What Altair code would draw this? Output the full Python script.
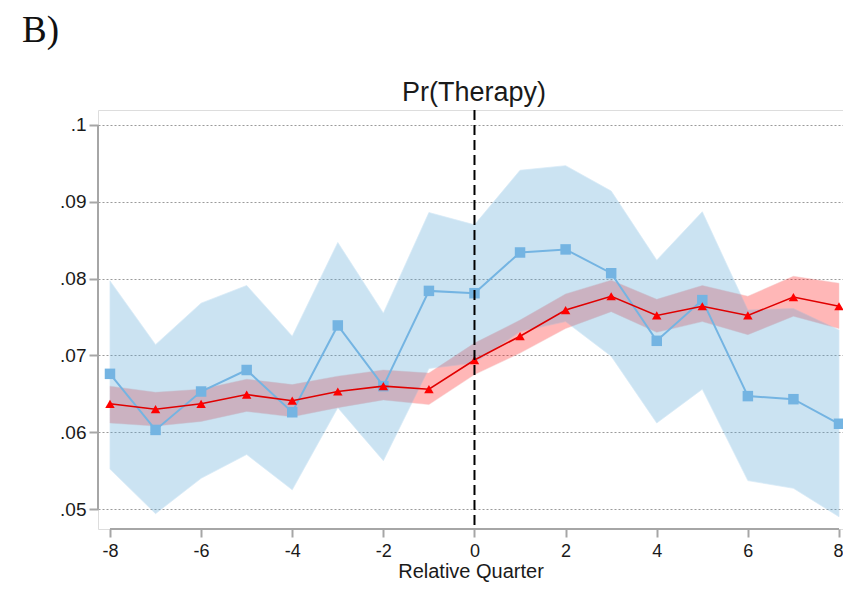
import altair as alt
import pandas as pd

quarters = list(range(-8, 9))
blue_est = [0.0676, 0.0603, 0.0653, 0.0681, 0.0626, 0.0739, 0.0660, 0.0784, 0.0781,
            0.0834, 0.0838, 0.0807, 0.0719, 0.0772, 0.0647, 0.0643, 0.0611]
blue_hi = [0.0797, 0.0714, 0.0768, 0.0791, 0.0725, 0.0847, 0.0755, 0.0886, 0.0870,
           0.0941, 0.0947, 0.0914, 0.0824, 0.0887, 0.0759, 0.0761, 0.0733]
blue_lo = [0.0552, 0.0494, 0.0540, 0.0571, 0.0525, 0.0632, 0.0563, 0.0683, 0.0690,
           0.0731, 0.0744, 0.0699, 0.0612, 0.0656, 0.0537, 0.0527, 0.0490]
red_est = [0.0637, 0.0630, 0.0637, 0.0649, 0.0641, 0.0653, 0.0660, 0.0656, 0.0694,
           0.0725, 0.0759, 0.0777, 0.0752, 0.0764, 0.0752, 0.0776, 0.0764]
red_hi = [0.0660, 0.0652, 0.0656, 0.0669, 0.0662, 0.0673, 0.0681, 0.0677, 0.0716,
          0.0746, 0.0780, 0.0798, 0.0773, 0.0791, 0.0777, 0.0803, 0.0794]
red_lo = [0.0612, 0.0608, 0.0614, 0.0627, 0.0620, 0.0632, 0.0642, 0.0636, 0.0675,
          0.0703, 0.0735, 0.0757, 0.0730, 0.0744, 0.0727, 0.0751, 0.0735]

x_ticks = [-8, -6, -4, -2, 0, 2, 4, 6, 8]
y_ticks = [0.05, 0.06, 0.07, 0.08, 0.09, 0.1]

df = pd.DataFrame({"q": quarters, "b": blue_est, "bl": blue_lo, "bh": blue_hi,
                   "r": red_est, "rl": red_lo, "rh": red_hi})

SANS = "Liberation Sans, Arial, sans-serif"
TXT = "#1a1a1a"
GREY = "#a6a6a6"

xscale = alt.Scale(domain=[-8.263, 8.088], nice=False, zero=False)
yscale = alt.Scale(domain=[0.0474, 0.10195], nice=False, zero=False)

xaxis = alt.Axis(values=x_ticks, domain=False, grid=False, tickColor=GREY, tickWidth=2,
                 tickSize=8, labelFontSize=18, labelFont=SANS, labelColor=TXT,
                 labelExpr="'' + datum.value",
                 labelAlign={"condition": {"test": "datum.value == 8", "value": "right"},
                             "value": "center"},
                 labelOffset={"condition": {"test": "datum.value == 8", "value": 4},
                              "value": 0},
                 labelBound=False,
                 labelPadding=5, title="Relative Quarter", titleFontSize=20,
                 titleFont=SANS, titleFontWeight="normal", titleColor=TXT,
                 titlePadding=1)
yaxis = alt.Axis(values=y_ticks, domain=False, grid=True, gridColor="#9a9a9a",
                 gridDash=[2, 2], gridWidth=1, tickColor=GREY, tickWidth=2, tickSize=9,
                 labelExpr="substring(format(datum.value, '.2~f'), 1)",
                 labelFontSize=19, labelFont=SANS, labelColor=TXT, labelPadding=3,
                 title=None)


def X(field="q"):
    return alt.X(f"{field}:Q", scale=xscale, axis=xaxis)


def Y(field):
    return alt.Y(f"{field}:Q", scale=yscale, axis=yaxis)


base = alt.Chart(df)

red_band = base.mark_area(color="#ff0000", opacity=0.28, stroke="#e04040",
                          strokeOpacity=0.45, strokeWidth=1).encode(
    x=X(), y=Y("rl"), y2="rh:Q")
blue_band = base.mark_area(color="#5aa8d8", opacity=0.31, stroke="#7dbbe6",
                           strokeOpacity=0.7, strokeWidth=1).encode(
    x=X(), y=Y("bl"), y2="bh:Q")
blue_line = base.mark_line(color="#74b4e2", strokeWidth=2).encode(x=X(), y=Y("b"))
blue_pts = base.mark_point(shape="square", filled=True, color="#74b4e2", size=110,
                           opacity=1).encode(x=X(), y=Y("b"))
red_line = base.mark_line(color="#e00000", strokeWidth=1.6).encode(x=X(), y=Y("r"))
red_pts = base.mark_point(shape="triangle-up", filled=True, color="#ff0000", size=90,
                          opacity=1).encode(x=X(), y=Y("r"))

one = pd.DataFrame({"k": [0]})
yline = alt.Chart(one).mark_rule(color=GREY, strokeWidth=2).encode(
    x=alt.value(0), y=alt.datum(0.05), y2=alt.datum(0.1))
xline = alt.Chart(one).mark_rule(color=GREY, strokeWidth=2).encode(
    x=alt.datum(-8), x2=alt.datum(8), y=alt.value(419))
vline = alt.Chart(one).mark_rule(color="#000000", strokeWidth=2,
                                 strokeDash=[10, 5]).encode(
    x=alt.datum(0), y=alt.value(0), y2=alt.value(419))

title = alt.Chart(pd.DataFrame({"t": ["Pr(Therapy)"]})).mark_text(
    fontSize=27, font=SANS, color=TXT, align="center", baseline="alphabetic").encode(
    text="t:N", x=alt.value(376), y=alt.value(-9))
panel = alt.Chart(pd.DataFrame({"t": ["B)"]})).mark_text(
    fontSize=37, font="Liberation Serif, Times New Roman, serif", color="#111111",
    align="left", baseline="alphabetic").encode(
    text="t:N", x=alt.value(-76), y=alt.value(-68))

chart = alt.layer(red_band, blue_band, blue_line, blue_pts, red_line, red_pts,
                  yline, xline, vline, title, panel).properties(
    width=745, height=419,
    autosize=alt.AutoSizeParams(type="none"),
    padding={"left": 90, "top": 102, "right": 0, "bottom": 57},
).configure_view(stroke=None).configure(background="white")

chart.save("out.html", embed_options={"renderer": "svg", "actions": False})
